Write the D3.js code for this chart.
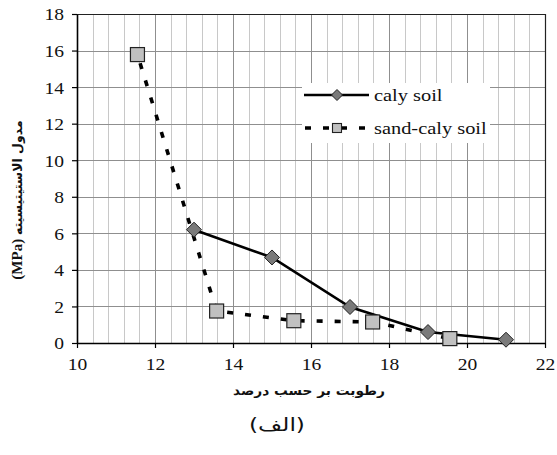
<!DOCTYPE html>
<html><head><meta charset="utf-8">
<script src="https://cdn.jsdelivr.net/npm/d3@7/dist/d3.min.js"></script>
<style>
body{margin:0;background:#fff;}
svg{display:block;}
.serif{font-family:"Liberation Serif","Times New Roman",serif;}
.fa{font-family:"DejaVu Sans",sans-serif;}
</style></head>
<body>
<svg id="chart" width="557" height="455"></svg>
<script>
const clayX = [13, 15, 17, 19, 21];
const clayY = [6.2, 4.68, 1.97, 0.6, 0.18];
const sandX = [11.55, 13.58, 15.56, 17.58, 19.56];
const sandY = [15.78, 1.75, 1.22, 1.15, 0.24];
const xTicks = [10, 12, 14, 16, 18, 20, 22];
const yTicks = [0, 2, 4, 6, 8, 10, 12, 14, 16, 18];
const seriesNames = ["caly soil", "sand-caly soil"];
const xTitle = "رطوبت بر حسب درصد";
const yTitleFa = "مدول الاستیتیسیته";
const yTitleUnit = "(MPa)";
const caption = "(الف)";

const svg = d3.select("#chart");
const m = {l: 77, t: 14, r: 12, b: 112};
const W = 557 - m.l - m.r, H = 455 - m.t - m.b;
const x = d3.scaleLinear().domain([10, 22]).range([m.l, m.l + W]);
const y = d3.scaleLinear().domain([0, 18]).range([m.t + H, m.t]);

const g = svg.append("g");
const minor = d3.range(10.4, 21.99, 0.4).filter(v => Math.abs(v/2 - Math.round(v/2)) > 0.01);
g.selectAll(".vmin").data(minor).enter().append("line")
  .attr("x1", d => Math.round(x(d)) + 0.5).attr("x2", d => Math.round(x(d)) + 0.5)
  .attr("y1", m.t).attr("y2", m.t + H).attr("stroke", "#c8c8c8").attr("stroke-width", 1);
g.selectAll(".vmaj").data(xTicks.slice(1, -1)).enter().append("line")
  .attr("x1", d => Math.round(x(d)) + 0.5).attr("x2", d => Math.round(x(d)) + 0.5)
  .attr("y1", m.t).attr("y2", m.t + H).attr("stroke", "#8f8f8f").attr("stroke-width", 1);
g.selectAll(".hmaj").data(yTicks.slice(1, -1)).enter().append("line")
  .attr("y1", d => Math.round(y(d)) + 0.5).attr("y2", d => Math.round(y(d)) + 0.5)
  .attr("x1", m.l).attr("x2", m.l + W).attr("stroke", "#8f8f8f").attr("stroke-width", 1);
g.append("path").attr("d", `M${m.l},${m.t+0.5}H${m.l+W+0.5}V${m.t+H}`)
  .attr("fill", "none").attr("stroke", "#222").attr("stroke-width", 1.2);

const xAxis = d3.axisBottom(x).tickValues(xTicks).tickSize(5).tickSizeOuter(0).tickPadding(10);
const yAxis = d3.axisLeft(y).tickValues(yTicks).tickSize(5).tickSizeOuter(0).tickPadding(8);
const gx = svg.append("g").attr("transform", `translate(0,${m.t + H})`).call(xAxis);
const gy = svg.append("g").attr("transform", `translate(${m.l},0)`).call(yAxis);
[gx, gy].forEach(a => {
  a.attr("font-family", null).attr("font-size", null);
  a.select(".domain").attr("stroke", "#000").attr("stroke-width", 1.6);
  a.selectAll(".tick line").attr("stroke", "#000").attr("stroke-width", 1.2);
  a.selectAll("text").attr("class", "serif").style("font-size", "17px").attr("fill", "#111");
});
gx.selectAll(".tick text").attr("transform", "scale(1.15,1)");
gy.selectAll(".tick text").attr("x", -13 / 1.15).attr("dy", "0.35em").attr("transform", "scale(1.15,1)");

const line = d3.line().x(d => x(d[0])).y(d => y(d[1]));
const clay = clayX.map((v, i) => [v, clayY[i]]);
const sand = sandX.map((v, i) => [v, sandY[i]]);
svg.append("path").attr("d", line(clay)).attr("fill", "none").attr("stroke", "#000").attr("stroke-width", 2.6);
svg.append("path").attr("d", line(sand)).attr("fill", "none").attr("stroke", "#000").attr("stroke-width", 3.6)
  .attr("stroke-dasharray", "6,12").attr("stroke-dashoffset", -9);

const diamond = (s) => `M0,${-s}L${s},0L0,${s}L${-s},0Z`;
svg.selectAll(".dm").data(clay).enter().append("path")
  .attr("d", diamond(7.5)).attr("transform", d => `translate(${x(d[0])},${y(d[1])})`)
  .attr("fill", "#7a7a7a").attr("stroke", "#222").attr("stroke-width", 1);
svg.selectAll(".sq").data(sand).enter().append("rect")
  .attr("x", d => x(d[0]) - 7).attr("y", d => y(d[1]) - 7).attr("width", 14).attr("height", 14)
  .attr("fill", "#c0c0c0").attr("stroke", "#222").attr("stroke-width", 1.2);

const lg = svg.append("g");
lg.append("rect").attr("x", 302).attr("y", 83).attr("width", 188).attr("height", 60).attr("fill", "#fff");
const ly = [95, 128];
lg.append("line").attr("x1", 304).attr("x2", 369).attr("y1", ly[0]).attr("y2", ly[0])
  .attr("stroke", "#000").attr("stroke-width", 2.6);
lg.append("path").attr("d", diamond(5.5)).attr("transform", `translate(337,${ly[0]})`)
  .attr("fill", "#7a7a7a").attr("stroke", "#222").attr("stroke-width", 1);
lg.append("line").attr("x1", 305).attr("x2", 369).attr("y1", ly[1]).attr("y2", ly[1])
  .attr("stroke", "#000").attr("stroke-width", 3.6).attr("stroke-dasharray", "6,12");
lg.append("rect").attr("x", 332.5).attr("y", ly[1] - 4.5).attr("width", 9).attr("height", 9)
  .attr("fill", "#c0c0c0").attr("stroke", "#222").attr("stroke-width", 1.1);
seriesNames.forEach((n, i) => {
  lg.append("text").attr("class", "serif").attr("transform", `translate(374,${ly[i] + 6}) scale(1.2,1)`)
    .style("font-size", "17px").attr("fill", "#111").text(n);
});

svg.append("text").attr("class", "fa").attr("x", 309).attr("y", 395).attr("text-anchor", "middle")
  .style("font-weight", "bold").style("font-size", "13px")
  .attr("textLength", 152).attr("lengthAdjust", "spacingAndGlyphs").attr("fill", "#111").text(xTitle);
svg.append("text").attr("class", "fa").attr("x", 277).attr("y", 431).attr("text-anchor", "middle")
  .style("font-size", "18px")
  .attr("textLength", 56).attr("lengthAdjust", "spacingAndGlyphs").attr("fill", "#111").text(caption);

const yt = svg.append("text").attr("transform", "translate(22,200) rotate(-90)").attr("text-anchor", "middle")
  .style("font-weight", "bold").attr("fill", "#111");
yt.append("tspan").attr("class", "serif").style("font-size", "15px").text(yTitleUnit + " ");
yt.append("tspan").attr("class", "fa").style("font-size", "12.5px").text(yTitleFa);
</script>
</body></html>
